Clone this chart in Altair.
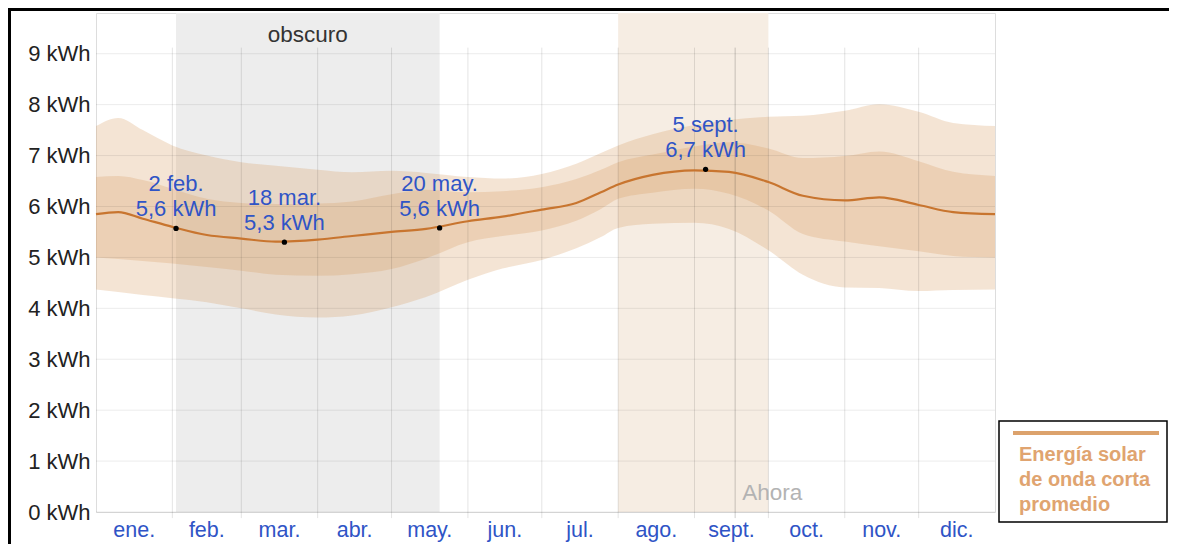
import altair as alt
import pandas as pd

# ---------------- data ----------------
dates = ["01-01", "01-10", "01-20", "02-01", "02-15", "03-01", "03-15", "04-01", "04-15",
         "05-01", "05-15", "06-01", "06-15", "07-01", "07-15", "07-25", "08-01", "08-15",
         "09-01", "09-15", "10-01", "10-15", "11-01", "11-15", "12-01", "12-15", "12-31"]
mean_kwh = [5.85, 5.89, 5.76, 5.60, 5.44, 5.37, 5.31, 5.35, 5.42,
            5.50, 5.56, 5.71, 5.80, 5.94, 6.07, 6.28, 6.43, 6.62,
            6.71, 6.68, 6.48, 6.21, 6.12, 6.18, 6.03, 5.89, 5.85]
p90_kwh = [7.58, 7.74, 7.50, 7.20, 7.00, 6.87, 6.80, 6.72, 6.67,
           6.70, 6.66, 6.58, 6.55, 6.64, 6.84, 7.05, 7.20, 7.42,
           7.60, 7.70, 7.76, 7.78, 7.88, 8.01, 7.86, 7.64, 7.58]
p75_kwh = [6.58, 6.60, 6.52, 6.35, 6.15, 6.07, 6.05, 6.06, 6.10,
           6.24, 6.33, 6.28, 6.30, 6.38, 6.54, 6.72, 6.87, 7.02,
           7.18, 7.26, 7.14, 6.95, 6.99, 7.08, 6.89, 6.68, 6.60]
p25_kwh = [5.00, 4.97, 4.93, 4.88, 4.81, 4.74, 4.66, 4.64, 4.67,
           4.77, 4.98, 5.30, 5.42, 5.53, 5.72, 5.95, 6.15, 6.27,
           6.35, 6.25, 5.92, 5.46, 5.31, 5.22, 5.12, 5.03, 5.00]
p10_kwh = [4.37, 4.32, 4.26, 4.20, 4.12, 4.00, 3.88, 3.82, 3.86,
           4.02, 4.22, 4.56, 4.78, 4.95, 5.18, 5.40, 5.58, 5.66,
           5.68, 5.56, 5.14, 4.66, 4.41, 4.40, 4.34, 4.36, 4.37]

month_labels = ["ene.", "feb.", "mar.", "abr.", "may.", "jun.",
                "jul.", "ago.", "sept.", "oct.", "nov.", "dic."]
month_lengths = [31, 28, 31, 30, 31, 30, 31, 31, 30, 31, 30, 31]
y_ticks = [0, 1, 2, 3, 4, 5, 6, 7, 8, 9]

ann_dates = ["02-02", "03-18", "05-20", "09-05"]
ann_values = [5.57, 5.30, 5.58, 6.73]
ann_text = ["2 feb.\n5,6 kWh", "18 mar.\n5,3 kWh", "20 may.\n5,6 kWh", "5 sept.\n6,7 kWh"]

dark_period = ["02-02", "05-20"]
bright_period = ["08-01", "09-30"]
now_date = "09-17"

legend_lines = ["Energía solar", "de onda corta", "promedio"]


def doy(s):
    return pd.Timestamp("2023-" + s).dayofyear - 1


# ---------------- tables ----------------
series = pd.DataFrame({
    "day": [doy(d) for d in dates],
    "mean": mean_kwh, "p90": p90_kwh, "p75": p75_kwh, "p25": p25_kwh, "p10": p10_kwh,
})
series.loc[series.index[-1], "day"] = 365

starts = [sum(month_lengths[:i]) for i in range(12)]
months = pd.DataFrame({
    "start": starts,
    "mid": [s + l / 2 for s, l in zip(starts, month_lengths)],
    "label": month_labels,
})
vgrid = pd.DataFrame({"day": starts[1:], "top": 9.12, "bot": -0.12})
hgrid = pd.DataFrame({"v": y_ticks, "a": 0, "b": 365})

ann = pd.DataFrame({
    "day": [doy(d) + 0.5 for d in ann_dates],
    "v": ann_values,
    "t": ann_text,
})

periods = pd.DataFrame({
    "s": [doy(dark_period[0]) + 0.5, doy(bright_period[0])],
    "e": [doy(dark_period[1]) + 0.5, doy(bright_period[1]) + 1],
    "kind": ["dark", "bright"],
    "lo": 0, "hi": 9.8,
})
periods["mid"] = (periods["s"] + periods["e"]) / 2
dark_label = pd.DataFrame({"mid": [periods["mid"][0]], "t": ["obscuro"]})
now = pd.DataFrame({"day": [doy(now_date) + 0.5], "top": 9.12, "bot": -0.12, "t": "Ahora"})
leg = pd.DataFrame({"t": ["\n".join(legend_lines)]})

# ---------------- encodings ----------------
FONT = "Liberation Sans"
BLUE = "#2f54c6"
xs = alt.Scale(domain=[0, 365], nice=False, zero=False)
ys = alt.Scale(domain=[0, 9.8], nice=False, zero=True)
yax = alt.Axis(values=y_ticks, labelExpr="datum.value + ' kWh'", grid=False, domain=False,
               ticks=False, title=None, labelFontSize=22, labelFont=FONT, labelColor="#222",
               labelPadding=6)


def X(f):
    return alt.X(f, type="quantitative", scale=xs, axis=None)


def Y(f):
    return alt.Y(f, type="quantitative", scale=ys, axis=yax)


base = alt.Chart(series)

period_rects = alt.Chart(periods).mark_rect().encode(
    x=X("s"), x2="e", y=Y("lo"), y2="hi",
    color=alt.Color("kind:N", scale=alt.Scale(domain=["dark", "bright"],
                                               range=["#ededed", "#f6ede3"]), legend=None),
)

hrules = alt.Chart(hgrid).mark_rule(color="#000", opacity=0.08, strokeWidth=1).encode(
    x=X("a"), x2="b", y=Y("v"))

outer = base.mark_area(color="#d99f66", opacity=0.28, interpolate="monotone").encode(
    x=X("day"), y=Y("p10"), y2="p90")
inner = base.mark_area(color="#d99f66", opacity=0.28, interpolate="monotone").encode(
    x=X("day"), y=Y("p25"), y2="p75")
line = base.mark_line(color="#c8752f", strokeWidth=2.2, interpolate="monotone").encode(
    x=X("day"), y=Y("mean"))

vrules = alt.Chart(vgrid).mark_rule(color="#000", opacity=0.11, strokeWidth=1).encode(
    x=X("day"), y=Y("top"), y2="bot")
now_rule = alt.Chart(now).mark_rule(color="#000", opacity=0.2, strokeWidth=1).encode(
    x=X("day"), y=Y("top"), y2="bot")
now_text = alt.Chart(now).mark_text(align="left", baseline="middle", dx=7, fontSize=22.5,
                                    font=FONT, color="#b3b3b3").encode(
    x=X("day"), y=alt.value(480), text="t:N")

dark_text = alt.Chart(dark_label).mark_text(baseline="middle", fontSize=22.5, font=FONT,
                                            color="#333").encode(
    x=X("mid"), y=alt.value(22), text="t:N")

month_text = alt.Chart(months).mark_text(baseline="middle", fontSize=21.5, font=FONT,
                                         color=BLUE).encode(
    x=X("mid"), y=alt.value(518), text="label:N")

pts = alt.Chart(ann).mark_point(filled=True, color="black", size=28, opacity=1).encode(
    x=X("day"), y=Y("v"))
ann_txt = alt.Chart(ann).mark_text(baseline="bottom", dy=-32, fontSize=22, font=FONT,
                                   color=BLUE, lineBreak="\n", lineHeight=25).encode(
    x=X("day"), y=Y("v"), text="t:N")

# legend box (custom)
leg_box = alt.Chart(leg).mark_rect(fill="white", stroke="black", strokeWidth=1.5).encode(
    x=alt.value(903), x2=alt.value(1071), y=alt.value(408), y2=alt.value(509))
leg_line = alt.Chart(leg).mark_rule(color="#dca26c", strokeWidth=4).encode(
    x=alt.value(917), x2=alt.value(1063), y=alt.value(420))
leg_text = alt.Chart(leg).mark_text(align="left", baseline="middle", fontSize=20,
                                    fontWeight="bold", font=FONT, color="#e0a470",
                                    lineBreak="\n", lineHeight=25).encode(
    x=alt.value(923), y=alt.value(442), text="t:N")

# outer frame lines of the picture
frame_left = alt.Chart(leg).mark_rule(color="black", strokeWidth=3).encode(
    x=alt.value(-86.5), y=alt.value(-5), y2=alt.value(531))
frame_top = alt.Chart(leg).mark_rule(color="black", strokeWidth=3).encode(
    x=alt.value(-88), x2=alt.value(1073), y=alt.value(-3.5))

chart = alt.layer(
    period_rects, outer, inner, hrules, vrules, now_rule, line, pts, ann_txt,
    now_text, dark_text, month_text, leg_box, leg_line, leg_text, frame_left, frame_top,
).properties(
    width=899, height=499,
    autosize=alt.AutoSizeParams(type="none"),
    padding={"left": 88, "top": 5, "right": 174, "bottom": 32},
).configure_view(stroke=None).configure(background="white")

chart.save("out.html", embed_options={"renderer": "svg", "actions": False})
